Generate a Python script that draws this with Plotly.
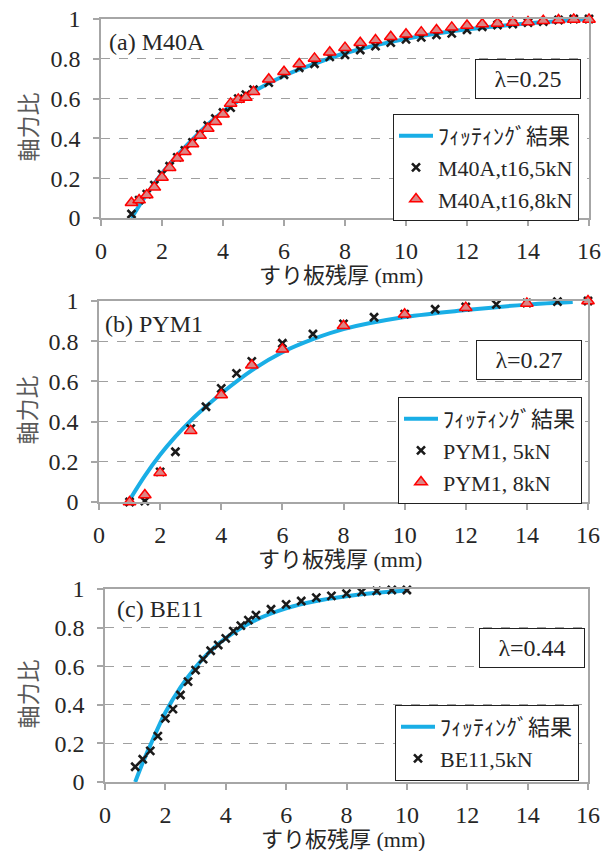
import plotly.graph_objects as go

# ---------------- data ----------------
# (a) M40A
a_fit_t = [1, 1.5, 2, 2.5, 3, 3.5, 4, 5, 6, 7, 8, 10, 12, 14, 16]
a_fit_y = [0, 0.12, 0.225, 0.315, 0.395, 0.47, 0.535, 0.635, 0.715, 0.775, 0.828, 0.9, 0.948, 0.978, 1.0]
a_t = [1, 1.25, 1.5, 1.75, 2, 2.25, 2.5, 2.75, 3, 3.25, 3.5, 3.75, 4, 4.25, 4.5, 4.75, 5,
       5.5, 6, 6.5, 7, 7.5, 8, 8.5, 9, 9.5, 10, 10.5, 11, 11.5, 12, 12.5, 13, 13.5, 14, 14.5, 15, 15.5, 16]
a_y5 = [0.02, 0.09, 0.12, 0.165, 0.22, 0.26, 0.305, 0.34, 0.38, 0.42, 0.465, 0.5, 0.53, 0.555, 0.6, 0.62, 0.645,
        0.68, 0.72, 0.755, 0.775, 0.81, 0.82, 0.844, 0.864, 0.881, 0.898, 0.908, 0.92, 0.928, 0.945, 0.961,
        0.97, 0.975, 0.982, 0.987, 0.995, 1.0, 1.0]
a_y8 = [0.077, 0.09, 0.116, 0.154, 0.204, 0.253, 0.30, 0.333, 0.372, 0.414, 0.45, 0.484, 0.521, 0.576, 0.596, 0.605, 0.635,
        0.697, 0.735, 0.774, 0.802, 0.833, 0.856, 0.881, 0.894, 0.911, 0.923, 0.934, 0.945, 0.958,
        0.967, 0.975, 0.978, 0.982, 0.985, 0.991, 0.995, 0.998, 0.998]

# (b) PYM1
b_fit_t = [1, 1.5, 2, 2.5, 3, 3.5, 4, 5, 6, 7, 8, 10, 12, 14, 15.5]
b_fit_y = [0.01, 0.13, 0.235, 0.325, 0.405, 0.475, 0.54, 0.655, 0.745, 0.81, 0.86, 0.92, 0.955, 0.982, 0.995]
b_t5 = [1, 1.5, 2, 2.5, 3, 3.5, 4, 4.5, 5, 6, 7, 8, 9, 10, 11, 12, 13, 14, 15, 16]
b_y5 = [0, 0.005, 0.15, 0.25, 0.365, 0.474, 0.565, 0.64, 0.70, 0.79, 0.836, 0.886, 0.919, 0.935,
        0.959, 0.97, 0.983, 0.99, 0.997, 1.0]
b_t8 = [1, 1.5, 2, 3, 4, 5, 6, 8, 10, 12, 14, 16]
b_y8 = [0.0, 0.035, 0.146, 0.355, 0.532, 0.68, 0.76, 0.877, 0.934, 0.967, 0.988, 1.0]

# (c) BE11
c_fit_t = [1, 1.25, 1.5, 2, 2.5, 3, 3.5, 4, 5, 6, 7, 8, 9, 10]
c_fit_y = [0, 0.1, 0.19, 0.36, 0.49, 0.595, 0.68, 0.745, 0.84, 0.9, 0.938, 0.962, 0.98, 0.992]
c_t5 = [1, 1.25, 1.5, 1.75, 2, 2.25, 2.5, 2.75, 3, 3.25, 3.5, 3.75, 4, 4.25, 4.5, 4.75, 5,
        5.5, 6, 6.5, 7, 7.5, 8, 8.5, 9, 9.5, 10]
c_y5 = [0.079, 0.118, 0.161, 0.238, 0.33, 0.378, 0.451, 0.52, 0.58, 0.637, 0.68, 0.71, 0.744, 0.782, 0.81,
        0.839, 0.865, 0.895, 0.92, 0.938, 0.955, 0.964, 0.976, 0.985, 0.99, 0.995, 0.995]

panel_labels = ["(a) M40A", "(b) PYM1", "(c) BE11"]
lambda_labels = ["λ=0.25", "λ=0.27", "λ=0.44"]
fit_name = "ﾌｨｯﾃｨﾝｸﾞ結果"
names_5 = ["M40A,t16,5kN", "PYM1, 5kN", "BE11,5kN"]
names_8 = ["M40A,t16,8kN", "PYM1, 8kN"]
x_title = "すり板残厚 (mm)"
y_title = "軸力比"

# ---------------- layout helpers ----------------
# the page body has an 8px margin, so the figure is drawn 8px in from the window corner
OFF = 8
W, H = 613 - 2 * OFF, 859 - 2 * OFF
def px(x): return (x - OFF) / W
def py(y): return 1 - (y - OFF) / H

SERIF = "Liberation Serif, Noto Sans CJK JP, serif"
SANS = "Noto Sans CJK JP, sans-serif"
TXT = "#262626"
BLUE = "#19aee6"
AX = "#a6a6a6"

# plot-area boxes in window pixels: (left, right, top, bottom)
boxes = [(101, 589, 19, 218), (99, 588, 301, 502), (105, 588, 589, 782)]
legend_boxes = [(579, 114), (582, 397), (579, 705)]
lambda_centers = [(528, 78.5), (529, 360), (532, 647.5)]
label_pos = [(107, 42), (103, 324), (115, 609)]

fig = go.Figure()

fits = [(a_fit_t, a_fit_y), (b_fit_t, b_fit_y), (c_fit_t, c_fit_y)]
five = [(a_t, a_y5), (b_t5, b_y5), (c_t5, c_y5)]
eight = [(a_t, a_y8), (b_t8, b_y8), None]

for i in range(3):
    sfx = "" if i == 0 else str(i + 1)
    xa, ya = "x" + sfx, "y" + sfx
    lg = "legend" + sfx
    ft, fy = fits[i]
    fig.add_trace(go.Scatter(x=ft, y=fy, mode="lines", name=fit_name,
                             line=dict(color=BLUE, width=4, shape="spline", smoothing=1.0),
                             xaxis=xa, yaxis=ya, legend=lg, cliponaxis=False))
    t5, y5 = five[i]
    fig.add_trace(go.Scatter(x=t5, y=y5, mode="markers", name=names_5[i],
                             marker=dict(symbol="x-thin", size=8, color="#1a1a1a",
                                         line=dict(width=2.6, color="#1a1a1a")),
                             xaxis=xa, yaxis=ya, legend=lg, cliponaxis=False))
    if eight[i] is not None:
        t8, y8 = eight[i]
        fig.add_trace(go.Scatter(x=t8, y=y8, mode="markers", name=names_8[i],
                                 marker=dict(symbol="triangle-up", size=11, color="#dc8585",
                                             line=dict(width=1.5, color="#ff0000")),
                                 xaxis=xa, yaxis=ya, legend=lg, cliponaxis=False))

layout = dict(width=W, height=H, margin=dict(l=0, r=0, t=0, b=0, autoexpand=False),
              paper_bgcolor="white", plot_bgcolor="white", showlegend=True)

annotations = []
for i, (l, r, t, b) in enumerate(boxes):
    sfx = "" if i == 0 else str(i + 1)
    layout["xaxis" + sfx] = dict(domain=[px(l), px(r)], range=[0, 16], dtick=2, tick0=0,
                                 anchor="y" + sfx, showline=True, linecolor=AX, linewidth=1.5,
                                 mirror=True, showgrid=False, zeroline=False, automargin=False,
                                 ticks="outside", ticklen=6, tickcolor=AX, tickwidth=1.5,
                                 ticklabelstandoff=4, ticklabeloverflow="allow",
                                 tickfont=dict(family=SERIF, size=24, color=TXT))
    layout["yaxis" + sfx] = dict(domain=[py(b), py(t)], range=[0, 1], dtick=0.2, tick0=0,
                                 anchor="x" + sfx, showline=True, linecolor=AX, linewidth=1.5,
                                 mirror=True, showgrid=True, gridcolor="#a0a0a0", gridwidth=1,
                                 griddash="dash", zeroline=False, automargin=False,
                                 ticks="outside", ticklen=6, tickcolor=AX, tickwidth=1.5,
                                 ticklabelstandoff=8, ticklabeloverflow="allow",
                                 tickfont=dict(family=SERIF, size=24, color=TXT))
    lx, ly = legend_boxes[i]
    layout["legend" + sfx] = dict(x=px(lx), y=py(ly), xanchor="right", yanchor="top",
                                  bgcolor="white", bordercolor="#222", borderwidth=1,
                                  font=dict(family=SERIF, size=22, color=TXT),
                                  tracegroupgap=0, itemwidth=34)
    cx, cy = lambda_centers[i]
    annotations.append(dict(x=px(cx), y=py(cy), xref="paper", yref="paper",
                            text=lambda_labels[i], showarrow=False,
                            font=dict(family=SERIF, size=24, color=TXT),
                            bordercolor="#222", borderwidth=1, bgcolor="white",
                            width=100, height=34, borderpad=2,
                            xanchor="center", yanchor="middle"))
    lxp, lyp = label_pos[i]
    annotations.append(dict(x=px(lxp), y=py(lyp), xref="paper", yref="paper",
                            text=panel_labels[i], showarrow=False,
                            font=dict(family=SERIF, size=24, color=TXT),
                            xanchor="left", yanchor="middle"))
    # x title
    annotations.append(dict(x=px((l + r) / 2 - 4), y=py(b + 57), xref="paper", yref="paper",
                            text=x_title, showarrow=False,
                            font=dict(family=SERIF, size=22, color=TXT),
                            xanchor="center", yanchor="middle"))
    # y title
    annotations.append(dict(x=px(26), y=py((t + b) / 2 + 9), xref="paper", yref="paper",
                            text=y_title, showarrow=False, textangle=-90,
                            font=dict(family=SANS, size=23, color="#595959"),
                            xanchor="center", yanchor="middle"))

layout["annotations"] = annotations
fig.update_layout(**layout)
fig.write_html("out.html")
